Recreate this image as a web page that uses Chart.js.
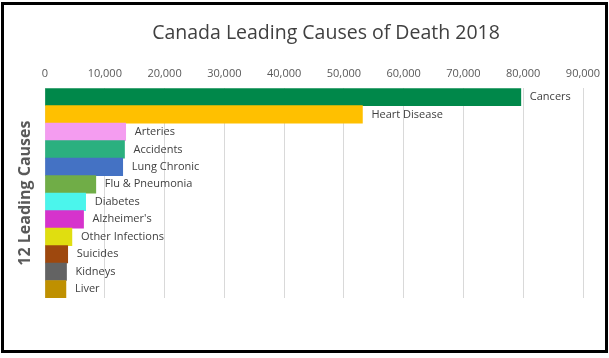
<!DOCTYPE html>
<html>
<head>
<meta charset="utf-8">
<script src="https://cdn.jsdelivr.net/npm/chart.js@4"></script>
<style>
  html, body { margin: 0; padding: 0; background: #fff; }
  #wrap { position: relative; width: 609px; height: 358px; }
  #frame { position: absolute; left: 1px; top: 2px; width: 601px; height: 345px; border: 3px solid #000; pointer-events: none; }
</style>
</head>
<body>
<div id="wrap">
  <canvas id="chart" width="609" height="358"></canvas>
  <div id="frame"></div>
</div>
<script>
// data (deaths, 2018)
const causes = ['Cancers', 'Heart Disease', 'Arteries', 'Accidents', 'Lung Chronic', 'Flu & Pneumonia',
                'Diabetes', "Alzheimer's", 'Other Infections', 'Suicides', 'Kidneys', 'Liver'];
const deaths = [79600, 53100, 13500, 13300, 13000, 8500, 6800, 6450, 4500, 3800, 3600, 3500];
const barColors = ['#00884A', '#FFC000', '#F49CF0', '#2BB07F', '#4472C4', '#70AD47',
                   '#4BF5EC', '#D633CC', '#E0DE10', '#9E480E', '#636363', '#BF9000'];
const xTicks = [0, 10000, 20000, 30000, 40000, 50000, 60000, 70000, 80000, 90000];
const chartTitle = 'Canada Leading Causes of Death 2018';
const sideTitleText = '12 Leading Causes';

const FONT = '"Open Sans", "Noto Sans", sans-serif';

// label at the end of each bar
const endLabels = {
    id: 'endLabels',
    afterDatasetsDraw(chart){
        const ctx = chart.ctx;
        const meta = chart.getDatasetMeta(0);
        ctx.save();
        ctx.font = '11px ' + FONT;
        ctx.fillStyle = '#404040';
        ctx.textBaseline = 'middle';
        ctx.textAlign = 'left';
        meta.data.forEach((bar, i)=>{
            ctx.fillText(causes[i], bar.x + 9, bar.y);
        });
        ctx.restore();
    }
};

// chart title and vertical axis title
const titles = {
    id: 'titles',
    afterDraw(chart){
        const ctx = chart.ctx;
        const a = chart.chartArea;
        ctx.save();
        ctx.font = '19.5px ' + FONT;
        ctx.fillStyle = '#404040';
        ctx.textAlign = 'center';
        ctx.textBaseline = 'middle';
        ctx.fillText(chartTitle, 326, 33);

        ctx.translate(25, (a.top + a.bottom) / 2);
        ctx.rotate(-Math.PI / 2);
        ctx.font = 'bold 16px ' + FONT;
        ctx.fillStyle = '#595959';
        ctx.fillText(sideTitleText, 0, 0);
        ctx.restore();
    }
};

new Chart(document.getElementById('chart').getContext('2d'), {
    type: 'bar',
    data: {
        labels: causes,
        datasets: [{
            data: deaths,
            backgroundColor: barColors,
            borderWidth: 0,
            barPercentage: 1,
            categoryPercentage: 1
        }]
    },
    options: {
        indexAxis: 'y',
        responsive: false,
        animation: false,
        layout: { padding: { left: 45, right: 26, top: 59, bottom: 60 } },
        plugins: {
            legend: { display: false },
            tooltip: { enabled: false },
            title: { display: false }
        },
        scales: {
            x: {
                position: 'top',
                min: xTicks[0],
                max: xTicks[xTicks.length - 1],
                afterBuildTicks(scale){ scale.ticks = xTicks.map(v=>({ value: v })); },
                ticks: {
                    color: '#595959',
                    font: { family: FONT, size: 11 },
                    padding: 8,
                    callback: v => v.toLocaleString('en-US')
                },
                grid: { color: '#d9d9d9', drawTicks: false },
                border: { display: false }
            },
            y: { display: false }
        }
    },
    plugins: [endLabels, titles]
});
</script>
</body>
</html>
